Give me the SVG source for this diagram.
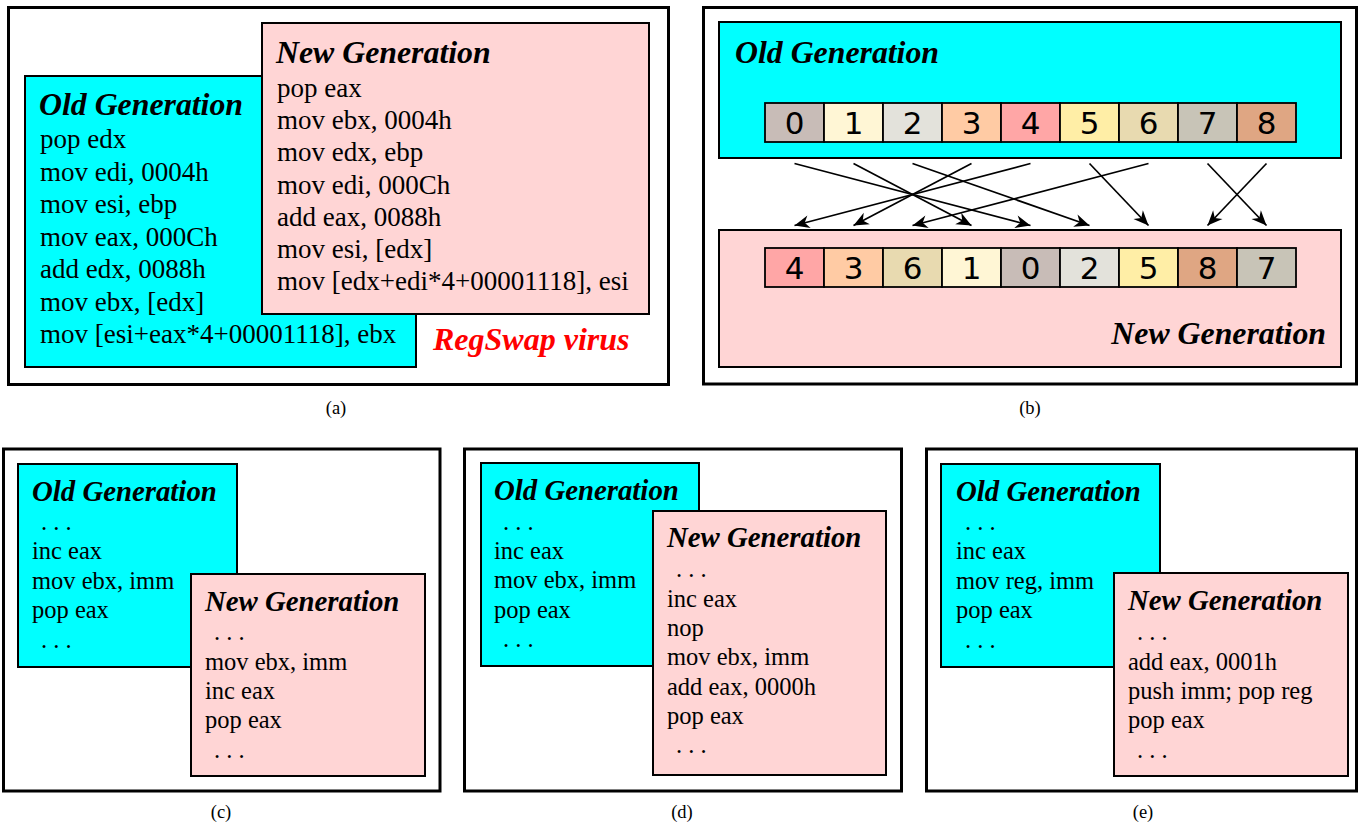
<svg xmlns="http://www.w3.org/2000/svg" width="1360" height="827" viewBox="0 0 1360 827">
<style>
.frame{fill:#fff;stroke:#000;stroke-width:3}
.old{fill:#00ffff;stroke:#000;stroke-width:2}
.new{fill:#ffd5d5;stroke:#000;stroke-width:2}
.hd{font-family:"Liberation Serif",serif;font-weight:bold;font-style:italic;fill:#000}
.hdA{font-size:31.8px}
.hdC{font-size:28.8px}
.code{font-family:"Liberation Serif",serif;fill:#000}
.codeA{font-size:27px}
.codeC{font-size:24.5px}
.cap{font-family:"Liberation Serif",serif;font-size:18.5px;fill:#000;text-anchor:middle}
.cell{stroke:#000;stroke-width:1.8}
.num{font-family:"DejaVu Sans",sans-serif;font-size:31px;fill:#000;text-anchor:middle}
.arr{stroke:#000;stroke-width:1.7;fill:none;marker-end:url(#ah)}
.c0{fill:#c8bcb7}.c1{fill:#fff6d5}.c2{fill:#e3e2db}.c3{fill:#ffcba4}.c4{fill:#ffa6a6}
.c5{fill:#ffeea6}.c6{fill:#e8dab0}.c7{fill:#c8c4b7}.c8{fill:#dfa683}
</style>
<defs>
<marker id="ah" viewBox="-16 -8 17 16" refX="0" refY="0" markerWidth="17" markerHeight="16" markerUnits="userSpaceOnUse" orient="auto">
<path d="M0,0 L-15,-6.5 L-10.5,0 L-15,6.5 Z" fill="#000"/>
</marker>
</defs>

<!-- Panel (a) -->
<g id="panel-a">
<rect class="frame" x="8.5" y="7.5" width="660" height="377"/>
<g id="a-old">
<rect class="old" x="25" y="76" width="391" height="291"/>
<text class="hd hdA" x="39" y="115">Old Generation</text>
<g class="code codeA">
<text x="40" y="148">pop edx</text>
<text x="40" y="180.5">mov edi, 0004h</text>
<text x="40" y="213">mov esi, ebp</text>
<text x="40" y="245.5">mov eax, 000Ch</text>
<text x="40" y="278">add edx, 0088h</text>
<text x="40" y="310.5">mov ebx, [edx]</text>
<text x="40" y="343">mov [esi+eax*4+00001118], ebx</text>
</g>
</g>
<g id="a-new">
<rect class="new" x="262" y="23" width="387" height="291"/>
<text class="hd hdA" x="276" y="63">New Generation</text>
<g class="code codeA">
<text x="277" y="97">pop eax</text>
<text x="277" y="129">mov ebx, 0004h</text>
<text x="277" y="161">mov edx, ebp</text>
<text x="277" y="193.5">mov edi, 000Ch</text>
<text x="277" y="225.5">add eax, 0088h</text>
<text x="277" y="258">mov esi, [edx]</text>
<text x="277" y="290">mov [edx+edi*4+00001118], esi</text>
</g>
</g>
<text id="a-title" class="hd" x="433" y="350" font-size="32px" style="fill:#ff0000">RegSwap virus</text>
</g>
<text class="cap" x="336" y="414">(a)</text>

<!-- Panel (b) -->
<g id="panel-b">
<rect class="frame" x="703.5" y="7.5" width="653" height="376.5"/>
<g id="b-old">
<rect class="old" x="719" y="22" width="622" height="136"/>
<text class="hd hdA" x="735" y="63">Old Generation</text>
<g id="b-old-cells">
<rect class="cell c0" x="765" y="103" width="59" height="39"/>
<rect class="cell c1" x="824" y="103" width="59" height="39"/>
<rect class="cell c2" x="883" y="103" width="59" height="39"/>
<rect class="cell c3" x="942" y="103" width="59" height="39"/>
<rect class="cell c4" x="1001" y="103" width="59" height="39"/>
<rect class="cell c5" x="1060" y="103" width="59" height="39"/>
<rect class="cell c6" x="1119" y="103" width="59" height="39"/>
<rect class="cell c7" x="1178" y="103" width="59" height="39"/>
<rect class="cell c8" x="1237" y="103" width="59" height="39"/>
<text class="num" x="794.5" y="134">0</text>
<text class="num" x="853.5" y="134">1</text>
<text class="num" x="912.5" y="134">2</text>
<text class="num" x="971.5" y="134">3</text>
<text class="num" x="1030.5" y="134">4</text>
<text class="num" x="1089.5" y="134">5</text>
<text class="num" x="1148.5" y="134">6</text>
<text class="num" x="1207.5" y="134">7</text>
<text class="num" x="1266.5" y="134">8</text>
</g>
</g>
<g id="b-new">
<rect class="new" x="719" y="230" width="622" height="137"/>
<text class="hd hdA" x="1326" y="344" text-anchor="end">New Generation</text>
<g id="b-new-cells">
<rect class="cell c4" x="765" y="248" width="59" height="39"/>
<rect class="cell c3" x="824" y="248" width="59" height="39"/>
<rect class="cell c6" x="883" y="248" width="59" height="39"/>
<rect class="cell c1" x="942" y="248" width="59" height="39"/>
<rect class="cell c0" x="1001" y="248" width="59" height="39"/>
<rect class="cell c2" x="1060" y="248" width="59" height="39"/>
<rect class="cell c5" x="1119" y="248" width="59" height="39"/>
<rect class="cell c8" x="1178" y="248" width="59" height="39"/>
<rect class="cell c7" x="1237" y="248" width="59" height="39"/>
<text class="num" x="794.5" y="279">4</text>
<text class="num" x="853.5" y="279">3</text>
<text class="num" x="912.5" y="279">6</text>
<text class="num" x="971.5" y="279">1</text>
<text class="num" x="1030.5" y="279">0</text>
<text class="num" x="1089.5" y="279">2</text>
<text class="num" x="1148.5" y="279">5</text>
<text class="num" x="1207.5" y="279">8</text>
<text class="num" x="1266.5" y="279">7</text>
</g>
</g>
<g id="connectors">
<line class="arr" x1="794.5" y1="163.5" x2="1030.5" y2="225.5"/>
<line class="arr" x1="853.5" y1="163.5" x2="971.5" y2="225.5"/>
<line class="arr" x1="912.5" y1="163.5" x2="1089.5" y2="225.5"/>
<line class="arr" x1="971.5" y1="163.5" x2="853.5" y2="225.5"/>
<line class="arr" x1="1030.5" y1="163.5" x2="794.5" y2="225.5"/>
<line class="arr" x1="1089.5" y1="163.5" x2="1148.5" y2="225.5"/>
<line class="arr" x1="1148.5" y1="163.5" x2="912.5" y2="225.5"/>
<line class="arr" x1="1207.5" y1="163.5" x2="1266.5" y2="225.5"/>
<line class="arr" x1="1266.5" y1="163.5" x2="1207.5" y2="225.5"/>
</g>
</g>
<text class="cap" x="1030" y="414">(b)</text>

<!-- Panel (c) -->
<g id="panel-c">
<rect class="frame" x="3.5" y="449" width="436.5" height="342"/>
<g id="c-old">
<rect class="old" x="18" y="464" width="219" height="203"/>
<text class="hd hdC" x="32" y="501">Old Generation</text>
<g class="code codeC">
<text x="41" y="530">. . .</text>
<text x="32" y="559">inc eax</text>
<text x="32" y="589">mov ebx, imm</text>
<text x="32" y="618">pop eax</text>
<text x="41" y="648">. . .</text>
</g>
</g>
<g id="c-new">
<rect class="new" x="191" y="574" width="234" height="202"/>
<text class="hd hdC" x="205" y="611">New Generation</text>
<g class="code codeC">
<text x="214" y="640">. . .</text>
<text x="205" y="670">mov ebx, imm</text>
<text x="205" y="699">inc eax</text>
<text x="205" y="728">pop eax</text>
<text x="214" y="758">. . .</text>
</g>
</g>
</g>
<text class="cap" x="221" y="818">(c)</text>

<!-- Panel (d) -->
<g id="panel-d">
<rect class="frame" x="464.5" y="449" width="437" height="342"/>
<g id="d-old">
<rect class="old" x="481" y="463" width="218" height="203"/>
<text class="hd hdC" x="494" y="500">Old Generation</text>
<g class="code codeC">
<text x="503" y="530">. . .</text>
<text x="494" y="559">inc eax</text>
<text x="494" y="588">mov ebx, imm</text>
<text x="494" y="618">pop eax</text>
<text x="503" y="647">. . .</text>
</g>
</g>
<g id="d-new">
<rect class="new" x="653" y="511" width="233" height="264"/>
<text class="hd hdC" x="667" y="547">New Generation</text>
<g class="code codeC">
<text x="676" y="577">. . .</text>
<text x="667" y="607">inc eax</text>
<text x="667" y="636">nop</text>
<text x="667" y="665">mov ebx, imm</text>
<text x="667" y="695">add eax, 0000h</text>
<text x="667" y="724">pop eax</text>
<text x="676" y="753">. . .</text>
</g>
</g>
</g>
<text class="cap" x="682" y="818">(d)</text>

<!-- Panel (e) -->
<g id="panel-e">
<rect class="frame" x="926.5" y="449" width="430" height="342"/>
<g id="e-old">
<rect class="old" x="941" y="464" width="219" height="203"/>
<text class="hd hdC" x="956" y="501">Old Generation</text>
<g class="code codeC">
<text x="965" y="530">. . .</text>
<text x="956" y="559">inc eax</text>
<text x="956" y="589">mov reg, imm</text>
<text x="956" y="618">pop eax</text>
<text x="965" y="648">. . .</text>
</g>
</g>
<g id="e-new">
<rect class="new" x="1114" y="573" width="234" height="203"/>
<text class="hd hdC" x="1128" y="610">New Generation</text>
<g class="code codeC">
<text x="1137" y="640">. . .</text>
<text x="1128" y="670">add eax, 0001h</text>
<text x="1128" y="699">push imm; pop reg</text>
<text x="1128" y="728">pop eax</text>
<text x="1137" y="758">. . .</text>
</g>
</g>
</g>
<text class="cap" x="1143" y="818">(e)</text>
</svg>
